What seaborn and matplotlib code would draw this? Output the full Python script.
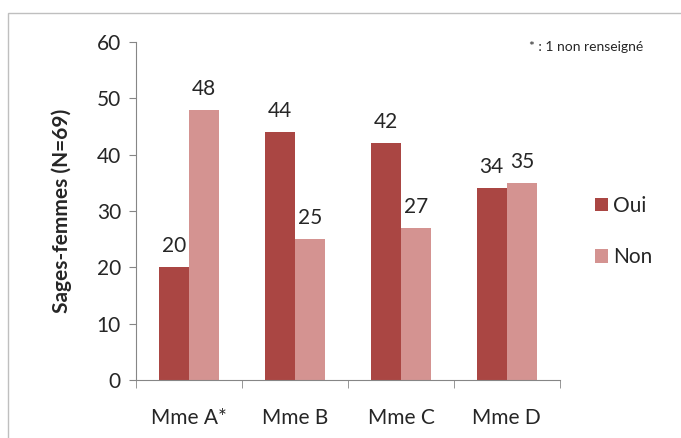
import numpy as np, pandas as pd
import seaborn as sns
import matplotlib.pyplot as plt
from matplotlib.patches import Rectangle

categories = ['Mme A*', 'Mme B', 'Mme C', 'Mme D']
oui = [20, 44, 42, 34]
non = [48, 25, 27, 35]

df = pd.DataFrame({'cat': categories * 2,
                   'val': oui + non,
                   'rep': ['Oui'] * 4 + ['Non'] * 4})

sns.set_style('white')
plt.rcParams['font.family'] = ['Lato', 'DejaVu Sans']

fig = plt.figure(figsize=(6.81, 4.38), dpi=100)
ax = fig.add_axes([0.2, 0.1324, 0.622, 0.7716])
sns.barplot(data=df, x='cat', y='val', hue='rep', palette=['#AA4643', '#D49391'],
            width=0.57, gap=0, saturation=1, linewidth=0, ax=ax)

for c in ax.containers:
    ax.bar_label(c, padding=8, fontsize=15)

ax.set_ylim(0, 60)
ax.set_xlim(-0.5, 3.5)
ax.set_yticks(range(0, 61, 10))
ax.set_xlabel('')
ax.set_ylabel('Sages-femmes (N=69)', fontsize=15, fontweight='bold', labelpad=18)
ax.tick_params(axis='y', labelsize=15, length=5, color='#868686', direction='out', left=True, pad=6)
ax.tick_params(axis='x', labelsize=15, length=0, pad=20)
ax.set_xticks(np.arange(-0.5, 4, 1), minor=True)
ax.tick_params(axis='x', which='minor', length=6, color='#868686', direction='out', bottom=True)
for s in ['top', 'right']:
    ax.spines[s].set_visible(False)
for s in ['left', 'bottom']:
    ax.spines[s].set_color('#868686')

ax.legend(loc='upper left', bbox_to_anchor=(1.04, 0.6), frameon=False, fontsize=15,
          handlelength=0.6, handleheight=0.6, handletextpad=0.25, labelspacing=1.5)

fig.text(0.86, 0.893, '* : 1 non renseigné', fontsize=10, ha='center', va='center')
fig.patches.append(Rectangle((8 / 681, -0.1), 1.2, 1 - 13 / 438 + 0.1, transform=fig.transFigure,
                             fill=False, edgecolor='#BFBFBF', linewidth=1))

fig.savefig('out.png', dpi=100)
